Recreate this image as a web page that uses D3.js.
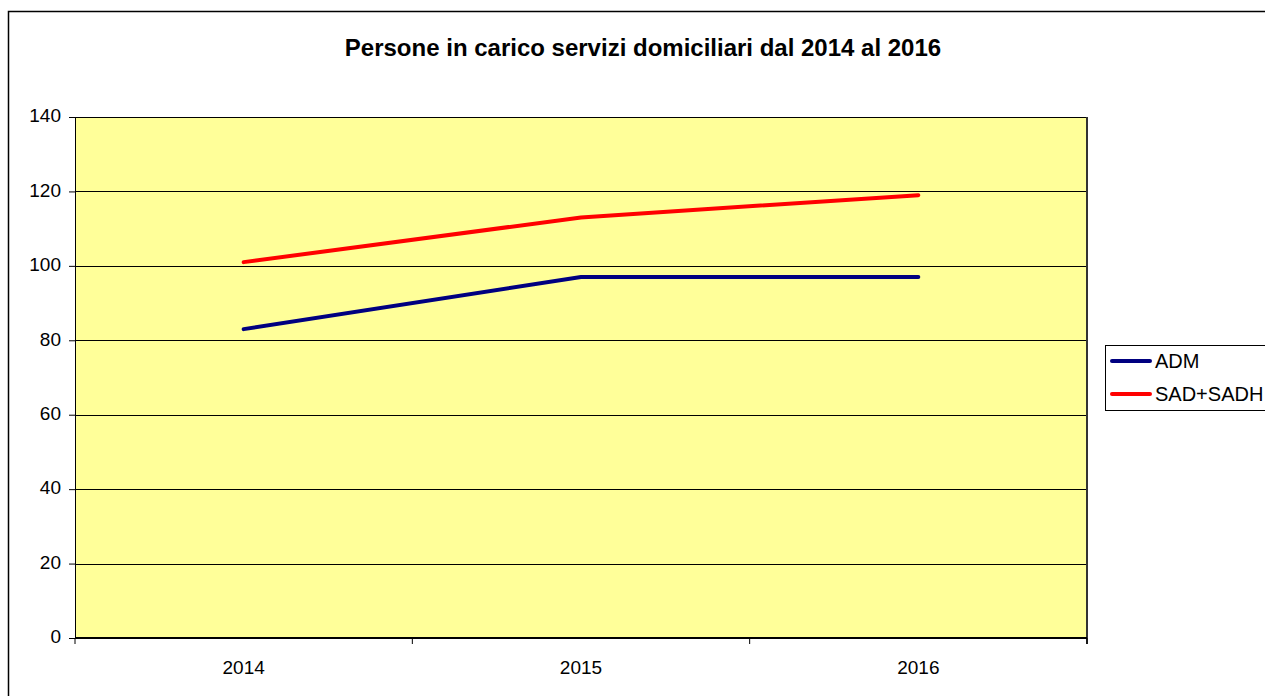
<!DOCTYPE html>
<html>
<head>
<meta charset="utf-8">
<script src="https://cdn.jsdelivr.net/npm/d3@7"></script>
<style>
  body { margin: 0; background: #fff; }
  svg { display: block; font-family: Arial, "Liberation Sans", sans-serif; }
</style>
</head>
<body>
<svg></svg>
<script>
const years = ["2014", "2015", "2016"]
const adm = [83, 97, 97]
const sad = [101, 113, 119]
const yTicks = [0, 20, 40, 60, 80, 100, 120, 140]
const seriesNames = ["ADM", "SAD+SADH"]
const seriesColors = ["#000080", "#ff0000"]

const W = 1265, H = 696,
  plot = {left: 75, top: 117, right: 1087, bottom: 638},
  font = "Arial, 'Liberation Sans', sans-serif"

const svg = d3.select("svg").attr("width", W).attr("height", H)

// outer chart frame (extends past the right and bottom edges)
svg.append("rect").attr("x", 8.5).attr("y", 11.5).attr("width", W + 20).attr("height", H + 20)
  .style("fill", "#fff").style("stroke", "#000").style("stroke-width", 1.5)

const x = d3.scaleBand().domain(years).range([plot.left, plot.right]),
      y = d3.scaleLinear().domain([0, 140]).range([plot.bottom, plot.top])

svg.append("rect").attr("x", plot.left).attr("y", plot.top)
  .attr("width", plot.right - plot.left).attr("height", plot.bottom - plot.top)
  .style("fill", "#ffff99")

// gridlines
svg.append("g").selectAll("line").data(yTicks.filter(d => d > 0)).join("line")
  .attr("x1", plot.left).attr("x2", plot.right)
  .attr("y1", d => Math.round(y(d)) + 0.5).attr("y2", d => Math.round(y(d)) + 0.5)
  .style("stroke", "#000").style("stroke-width", 1)

// right edge of plot (darker)
svg.append("line").attr("x1", plot.right).attr("x2", plot.right).attr("y1", plot.top).attr("y2", plot.bottom + 6)
  .style("stroke", "#333").style("stroke-width", 2)

const yAxis = svg.append("g").attr("transform", `translate(${plot.left},0)`)
  .call(d3.axisLeft(y).tickValues(yTicks).tickSize(6).tickPadding(8).tickFormat(d3.format("d")))
yAxis.select(".domain").style("stroke", "#000")
yAxis.selectAll(".tick line").style("stroke", "#000")
yAxis.selectAll("text").attr("dy", "0.25em").style("font-size", "19px").style("fill", "#000").style("font-family", font)

const xAxis = svg.append("g").attr("transform", `translate(0,${plot.bottom})`)
  .call(d3.axisBottom(x).tickSize(0).tickPadding(23))
xAxis.select(".domain").remove()
xAxis.selectAll("text").style("font-size", "19px").style("fill", "#000").style("font-family", font)
svg.append("line").attr("x1", plot.left).attr("x2", plot.right).attr("y1", plot.bottom).attr("y2", plot.bottom)
  .style("stroke", "#000").style("stroke-width", 2)
svg.append("g").selectAll("line").data([0, 1, 2, 3]).join("line")
  .attr("x1", i => plot.left + i * x.step()).attr("x2", i => plot.left + i * x.step())
  .attr("y1", plot.bottom).attr("y2", plot.bottom + 6)
  .style("stroke", "#000").style("stroke-width", 1)

const line = d3.line().x((d, i) => x(years[i]) + x.bandwidth() / 2).y(d => y(d))
;[adm, sad].forEach((s, i) => {
  svg.append("path").datum(s).attr("d", line)
    .style("fill", "none").style("stroke", seriesColors[i]).style("stroke-width", 4)
    .style("stroke-linecap", "round").style("stroke-linejoin", "round")
})

svg.append("text").text("Persone in carico servizi domiciliari dal 2014 al 2016")
  .attr("x", 643).attr("y", 56).style("text-anchor", "middle")
  .style("font-size", "24px").style("font-weight", "bold").style("font-family", font)

// legend
const legend = svg.append("g")
legend.append("rect").attr("x", 1105.5).attr("y", 345.5).attr("width", 200).attr("height", 65)
  .style("fill", "#fff").style("stroke", "#000").style("stroke-width", 1)
seriesNames.forEach((name, i) => {
  const ly = 361 + i * 33
  legend.append("line").attr("x1", 1112).attr("x2", 1150).attr("y1", ly).attr("y2", ly)
    .style("stroke", seriesColors[i]).style("stroke-width", 4).style("stroke-linecap", "round")
  legend.append("text").text(name).attr("x", 1155).attr("y", ly + 7).style("font-size", "20px").style("font-family", font)
})
</script>
</body>
</html>
